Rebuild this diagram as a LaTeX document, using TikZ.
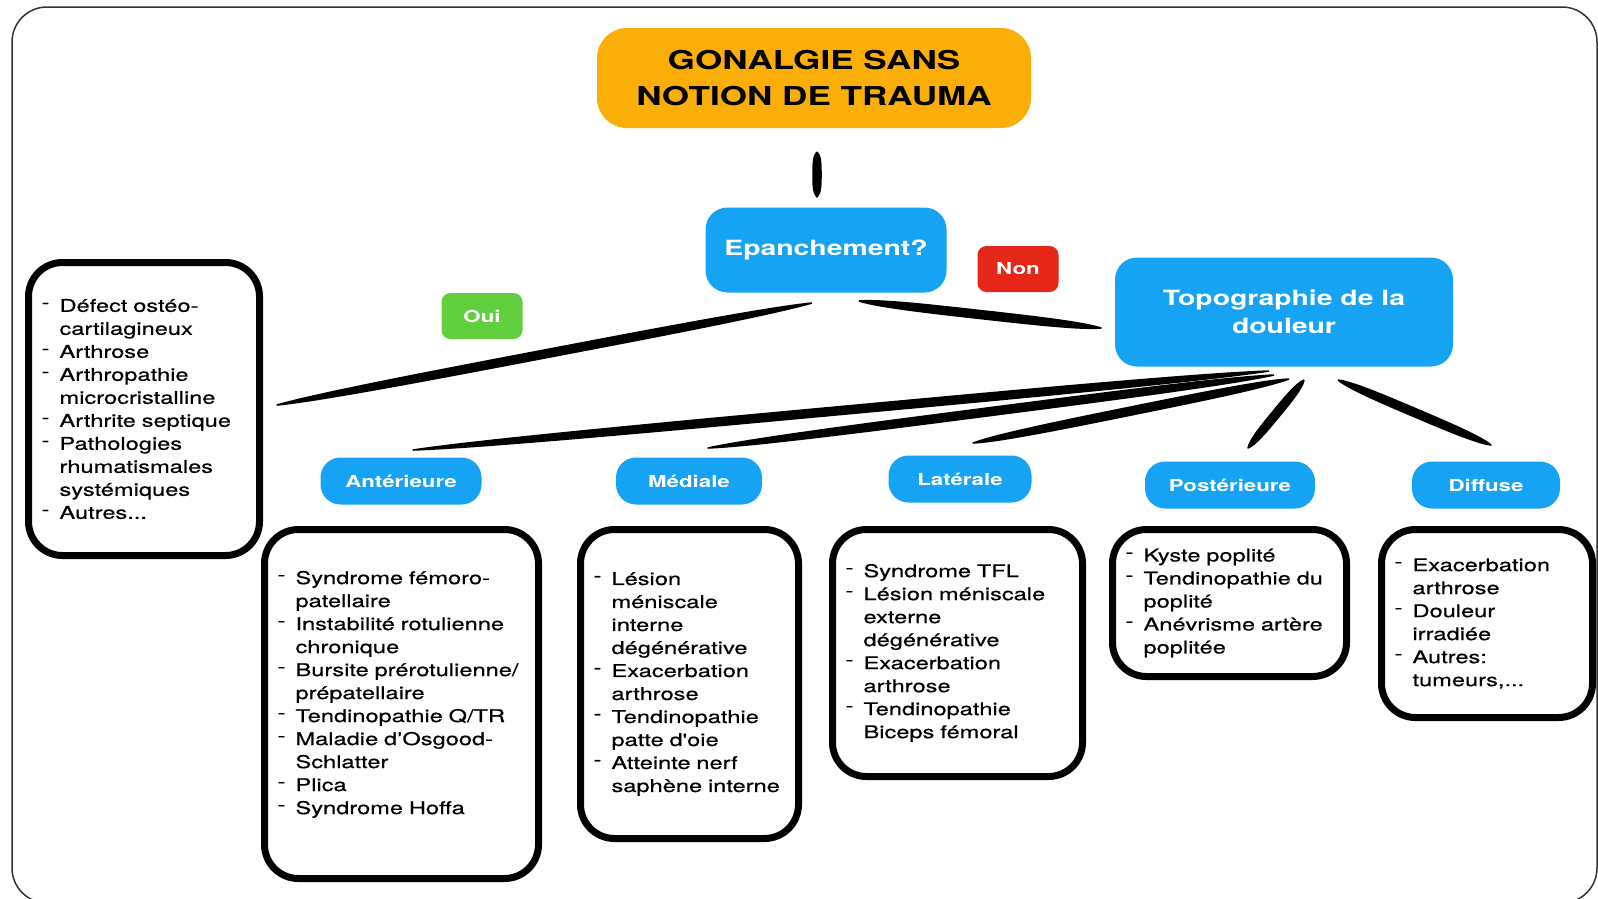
\documentclass[tikz,border=0pt]{standalone}
\usepackage{fontspec}
\setmainfont[FakeStretch=1.35]{TeX Gyre Heros}
\newfontfamily\listfont[FakeStretch=1.35, FakeBold=0.6]{TeX Gyre Heros}
\usetikzlibrary{calc}

\definecolor{titleorange}{RGB}{251,174,8}
\definecolor{boxblue}{RGB}{22,163,243}
\definecolor{nonred}{RGB}{229,38,24}
\definecolor{ouigreen}{RGB}{98,208,62}

% one line of a list, and the line that goes on after it
\newcommand{\dashitem}[1]{\mbox{\makebox[18pt][l]{\raisebox{3.5pt}{-}}#1}}
\newcommand{\dashcont}[1]{\mbox{\hspace*{18pt}#1}}

\begin{document}
\begin{tikzpicture}[x=1pt,y=-1pt]
\tikzstyle{frame_style} = [draw=black!80, line width=1.5pt, rounded corners=35pt]
\tikzstyle{title_style} = [fill=titleorange, rounded corners=30pt, minimum width=434pt, minimum height=100pt, align=center, font=\fontsize{26}{36}\selectfont\bfseries]
\tikzstyle{question_style} = [fill=boxblue, text=white, rounded corners=22pt, align=center, font=\fontsize{21}{28}\selectfont\bfseries]
\tikzstyle{answer_style} = [text=white, rounded corners=9pt, minimum width=81pt, minimum height=46pt, font=\fontsize{16.5}{20}\selectfont\bfseries]
\tikzstyle{region_style} = [fill=boxblue, text=white, rounded corners=20pt, minimum height=47pt, font=\fontsize{16.5}{20}\selectfont\bfseries]
\tikzstyle{list_style} = [draw=black, line width=7pt, rounded corners=34pt, align=left, inner xsep=13pt, font=\listfont\fontsize{17.5}{23}\selectfont]
\tikzstyle{edge_style} = [fill=black, line width=1.5pt, line join=round,
  to path={.. controls ($(\tikztostart)!0.08!(\tikztotarget)!4pt!90:(\tikztotarget)$) and ($(\tikztostart)!0.3!(\tikztotarget)!4pt!90:(\tikztotarget)$) .. ($(\tikztostart)!0.5!(\tikztotarget)!4pt!90:(\tikztotarget)$)
           .. controls ($(\tikztostart)!0.7!(\tikztotarget)!4pt!90:(\tikztotarget)$) and ($(\tikztostart)!0.92!(\tikztotarget)!4pt!90:(\tikztotarget)$) .. (\tikztotarget)
           .. controls ($(\tikztostart)!0.92!(\tikztotarget)!4pt!-90:(\tikztotarget)$) and ($(\tikztostart)!0.7!(\tikztotarget)!4pt!-90:(\tikztotarget)$) .. ($(\tikztostart)!0.5!(\tikztotarget)!4pt!-90:(\tikztotarget)$)
           .. controls ($(\tikztostart)!0.3!(\tikztotarget)!4pt!-90:(\tikztotarget)$) and ($(\tikztostart)!0.08!(\tikztotarget)!4pt!-90:(\tikztotarget)$) .. (\tikztostart)}]
    \useasboundingbox (0,0) rectangle (1598,898);
    \draw[frame_style] (12,7) rectangle (1597,903);

    \node[title_style] (title) at (814,78) {GONALGIE SANS\\NOTION DE TRAUMA};
    \node[question_style, minimum width=241pt, minimum height=85pt] (epan) at (826,250) {Epanchement?};
    \node[answer_style, fill=ouigreen] (oui) at (482,316) {Oui};
    \node[answer_style, fill=nonred] (non) at (1018,269) {Non};
    \node[question_style, minimum width=338pt, minimum height=109pt] (topo) at (1284,312) {Topographie de la\\douleur};

    \node[list_style, text width=205pt, minimum height=293pt] (list_oui) at (144,409) {%
      \dashitem{Défect ostéo-}\\ \dashcont{cartilagineux}\\ \dashitem{Arthrose}\\
      \dashitem{Arthropathie}\\ \dashcont{microcristalline}\\ \dashitem{Arthrite septique}\\
      \dashitem{Pathologies}\\ \dashcont{rhumatismales}\\ \dashcont{systémiques}\\ \dashitem{Autres...}};

    % regions
    \node[region_style, minimum width=161pt] (ant) at (401,481) {Antérieure};
    \node[region_style, minimum width=146pt] (med) at (689,481) {Médiale};
    \node[region_style, minimum width=143pt] (lat) at (960,479) {Latérale};
    \node[region_style, minimum width=170pt] (post) at (1230,485) {Postérieure};
    \node[region_style, minimum width=148pt] (diff) at (1486,485) {Diffuse};

    \node[list_style, text width=248pt, minimum height=349pt] (list_ant) at (401.5,704) {%
      \dashitem{Syndrome fémoro-}\\ \dashcont{patellaire}\\ \dashitem{Instabilité rotulienne}\\
      \dashcont{chronique}\\ \dashitem{Bursite prérotulienne/}\\ \dashcont{prépatellaire}\\
      \dashitem{Tendinopathie Q/TR}\\ \dashitem{Maladie d’Osgood-}\\ \dashcont{Schlatter}\\
      \dashitem{Plica}\\ \dashitem{Syndrome Hoffa}\\ \mbox{}};
    \node[list_style, text width=192pt, minimum height=309pt] (list_med) at (689.5,684) {%
      \dashitem{Lésion}\\ \dashcont{méniscale}\\ \dashcont{interne}\\ \dashcont{dégénérative}\\
      \dashitem{Exacerbation}\\ \dashcont{arthrose}\\ \dashitem{Tendinopathie}\\
      \dashcont{patte d'oie}\\ \dashitem{Atteinte nerf}\\ \dashcont{saphène interne}};
    \node[list_style, text width=224pt, minimum height=247pt] (list_lat) at (957.5,653) {%
      \dashitem{Syndrome TFL}\\ \dashitem{Lésion méniscale}\\ \dashcont{externe}\\
      \dashcont{dégénérative}\\ \dashitem{Exacerbation}\\ \dashcont{arthrose}\\
      \dashitem{Tendinopathie}\\ \dashcont{Biceps fémoral}};
    \node[list_style, text width=208pt, minimum height=147pt] (list_post) at (1229.5,603) {%
      \dashitem{Kyste poplité}\\ \dashitem{Tendinopathie du}\\ \dashcont{poplité}\\
      \dashitem{Anévrisme artère}\\ \dashcont{poplitée}};
    \node[list_style, text width=185pt, minimum height=188pt] (list_diff) at (1487,623.5) {%
      \dashitem{Exacerbation}\\ \dashcont{arthrose}\\ \dashitem{Douleur}\\
      \dashcont{irradiée}\\ \dashitem{Autres:}\\ \dashcont{tumeurs,...}};

    % brush strokes
    \coordinate (p1) at (817,152);
    \coordinate (p2) at (817,197);
    \coordinate (p3) at (812,303);
    \coordinate (p4) at (277,405);
    \coordinate (p5) at (859,301);
    \coordinate (p6) at (1101,328);
    \coordinate (p7) at (1269,371);
    \coordinate (p8) at (413,450);
    \coordinate (p9) at (1274,375);
    \coordinate (p10) at (708,448);
    \coordinate (p11) at (1289,379);
    \coordinate (p12) at (973,443);
    \coordinate (p13) at (1304,380);
    \coordinate (p14) at (1248,448);
    \coordinate (p15) at (1338,380);
    \coordinate (p16) at (1491,445);

    \draw[edge_style] (p1) to (p2);
    \draw[edge_style] (p3) to (p4);
    \draw[edge_style] (p5) to (p6);
    \draw[edge_style] (p7) to (p8);
    \draw[edge_style] (p9) to (p10);
    \draw[edge_style] (p11) to (p12);
    \draw[edge_style] (p13) to (p14);
    \draw[edge_style] (p15) to (p16);
\end{tikzpicture}
\end{document}
